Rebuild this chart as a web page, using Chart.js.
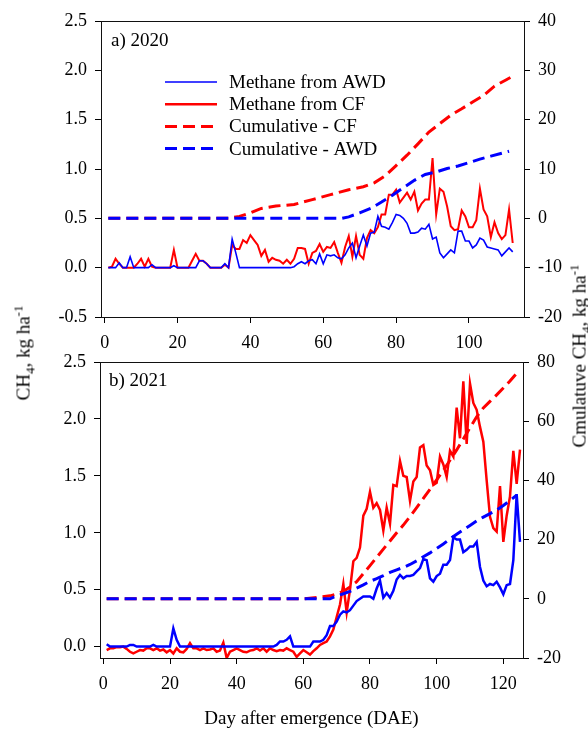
<!DOCTYPE html>
<html>
<head>
<meta charset="utf-8">
<script src="https://cdn.jsdelivr.net/npm/chart.js@4.4.0/dist/chart.umd.min.js"></script>
<style>
  body { margin: 0; background: #fff; }
  #wrap { position: relative; width: 588px; height: 729px; font-family: 'Liberation Serif', 'Times New Roman', serif; color: #000; }
  canvas { position: absolute; left: 0; }
  #chartA { top: 0; }
  #chartB { top: 330px; }
  .ttl { position: absolute; font-size: 19px; line-height: 1; white-space: nowrap; transform: translate(-50%, -50%) rotate(-90deg); }
  .ttl sub, .ttl sup { font-size: 13px; line-height: 0; }
</style>
</head>
<body>
<div id="wrap">
  <canvas id="chartA" width="588" height="360"></canvas>
  <canvas id="chartB" width="588" height="399"></canvas>
  <div class="ttl" style="left:23px; top:353px;">CH<sub>4</sub>, kg ha<sup>-1</sup></div>
  <div class="ttl" style="left:579px; top:356px;">Cmulatuve CH<sub>4</sub>, kg ha<sup>-1</sup></div>
</div>
<script>
const SERIF = "'Liberation Serif', 'Times New Roman', serif";
Chart.defaults.font.family = SERIF;
Chart.defaults.font.size = 18;
Chart.defaults.color = '#000';

// ---- a) 2020 : daily flux (kg/ha), day 1..112
const firstDay2020 = 1;
const awd2020 = [0, 0, 0, 0.05, 0, 0, 0.11, 0, 0, 0, 0, 0, 0.03, 0, 0, 0, 0, 0, 0.02, 0,
  0, 0, 0, 0, 0, 0.07, 0.07, 0.04, 0, 0, 0, 0, 0.04, 0, 0.29, 0.15, 0, 0, 0, 0,
  0, 0, 0, 0, 0, 0, 0, 0, 0, 0, 0, 0.01, 0.04, 0.06, 0.04, 0.07, 0.08, 0.04, 0.14, 0.04,
  0.13, 0.12, 0.13, 0.1, 0.09, 0.13, 0.2, 0.25, 0.1, 0.22, 0.33, 0.22, 0.35, 0.36, 0.52, 0.42, 0.41, 0.39, 0.46, 0.54,
  0.53, 0.5, 0.45, 0.35, 0.35, 0.36, 0.4, 0.39, 0.44, 0.29, 0.31, 0.15, 0.1, 0.14, 0.18, 0.15, 0.37, 0.37, 0.27, 0.27,
  0.2, 0.23, 0.3, 0.28, 0.21, 0.2, 0.19, 0.18, 0.12, 0.16, 0.2, 0.16];
const cf2020 = [0, 0.01, 0.09, 0.04, 0, 0, 0, 0, 0.04, 0.09, 0.01, 0.09, 0.01, 0, 0, 0, 0, 0, 0.18, 0,
  0, 0, 0, 0.07, 0.14, 0.07, 0.07, 0.04, 0, 0, 0, 0, 0.03, 0, 0.23, 0.19, 0.19, 0.28, 0.25, 0.33,
  0.28, 0.23, 0.12, 0.18, 0.06, 0.1, 0.08, 0.07, 0.04, 0.08, 0.04, 0.09, 0.2, 0.2, 0.19, 0.04, 0.15, 0.17, 0.24, 0.16,
  0.21, 0.2, 0.26, 0.15, 0.05, 0.21, 0.32, 0.11, 0.32, 0.13, 0.09, 0.3, 0.38, 0.35, 0.41, 0.54, 0.54, 0.74, 0.74, 0.79,
  0.66, 0.71, 0.76, 0.69, 0.77, 0.58, 0.65, 0.69, 0.69, 1.11, 0.54, 0.8, 0.77, 0.62, 0.42, 0.38, 0.39, 0.58, 0.52, 0.41,
  0.41, 0.48, 0.8, 0.59, 0.52, 0.31, 0.46, 0.35, 0.29, 0.33, 0.59, 0.25];
// cumulative (kg/ha)
const cumCFDays2020 = [1, 34, 37, 40, 43, 47, 52, 57, 62, 67, 71, 74, 77, 80, 83, 86, 89, 92, 95, 98, 101, 104, 107, 110, 112];
const cumCF2020 = [0, 0, 0.4, 1.1, 2, 2.5, 2.8, 3.8, 4.8, 5.8, 6.4, 7.2, 8.6, 10.7, 12.8, 15.1, 17.5, 19.2, 20.9, 22.2, 23.6, 24.9, 26.8, 28, 28.8];
const cumAWDDays2020 = [1, 65, 67, 70, 73, 76, 79, 82, 85, 88, 91, 94, 97, 100, 103, 106, 109, 111];
const cumAWD2020 = [0, 0, 0.3, 1.1, 2, 3.3, 4.7, 6.2, 7.7, 8.9, 9.4, 10.1, 10.6, 11.3, 12, 12.6, 13.2, 13.6];

// ---- b) 2021 : daily flux, day 1..125
const firstDay2021 = 1;
const awd2021 = [0.02, 0, 0, 0, 0, 0, 0, 0.015, 0.015, 0, 0, 0, 0, 0, 0.015, 0, 0, 0, 0, 0,
  0.16, 0.06, 0, 0, 0, 0, 0, 0, 0, 0, 0, 0, 0, 0, 0, 0, 0, 0, 0, 0,
  0, 0, 0, 0, 0, 0, 0, 0, 0, 0, 0, 0.015, 0.045, 0.045, 0.06, 0.09, 0, 0, 0, 0,
  0, 0, 0.045, 0.045, 0.045, 0.06, 0.1, 0.18, 0.18, 0.22, 0.28, 0.31, 0.3, 0.32, 0.36, 0.4, 0.42, 0.44, 0.44, 0.44,
  0.42, 0.51, 0.58, 0.43, 0.47, 0.43, 0.49, 0.59, 0.63, 0.6, 0.62, 0.62, 0.63, 0.66, 0.69, 0.77, 0.76, 0.6, 0.57, 0.62,
  0.64, 0.72, 0.72, 0.76, 0.96, 0.94, 0.94, 0.83, 0.85, 0.88, 0.88, 0.92, 0.7, 0.58, 0.53, 0.55, 0.54, 0.57, 0.52, 0.46,
  0.54, 0.55, 0.76, 1.34, 0.92];
const cf2021 = [-0.03, -0.015, -0.015, -0.005, -0.005, 0, -0.02, -0.045, -0.06, -0.045, -0.03, -0.035, -0.015, -0.015, -0.03, -0.015, -0.035, -0.025, -0.05, -0.03,
  -0.06, -0.015, -0.045, -0.05, -0.02, 0.03, -0.015, -0.015, -0.03, -0.015, -0.03, -0.025, -0.015, -0.045, -0.035, 0.035, -0.1, -0.045, -0.03, -0.015,
  -0.03, -0.045, -0.05, -0.035, -0.03, -0.015, -0.035, -0.015, -0.045, -0.015, -0.03, -0.04, -0.03, -0.035, -0.015, -0.03, -0.045, -0.09, -0.06, -0.03,
  -0.05, -0.07, -0.04, -0.015, 0.015, 0.03, 0.045, 0.09, 0.15, 0.26, 0.37, 0.55, 0.3, 0.5, 0.75, 0.78, 0.87, 1.15, 1.21, 1.36,
  1.22, 1.26, 1.2, 1.02, 1.22, 1.08, 1.42, 1.41, 1.63, 1.5, 1.49, 1.28, 1.45, 1.49, 1.75, 1.77, 1.59, 1.55, 1.42, 1.44,
  1.67, 1.6, 1.49, 1.72, 1.67, 2.1, 1.83, 2.33, 1.78, 2.31, 2.14, 2.08, 1.93, 1.8, 1.46, 1.14, 1.04, 1.01, 1.41, 0.92,
  1.15, 1.32, 1.72, 1.43, 1.73];
const cumCFDays2021 = [1, 60, 65, 68, 70, 72, 74, 76, 78, 80, 82, 84, 86, 88, 90, 92, 94, 96, 98, 100, 102, 104, 106, 108, 110, 112, 114, 116, 118, 120, 122, 124];
const cumCF2021 = [0, 0, 0.6, 1, 1.6, 2.5, 4, 5.8, 8.5, 11.2, 14, 16.8, 19.5, 22.3, 24.9, 27.8, 30.8, 33.9, 37, 40.2, 43.4, 46.8, 50.3, 54, 57.8, 61.5, 64.5, 66.7, 68.9, 71.2, 73.6, 76.2];
const cumAWDDays2021 = [1, 68, 70, 72, 74, 76, 78, 80, 82, 84, 86, 88, 90, 92, 94, 96, 98, 100, 102, 104, 106, 108, 110, 112, 114, 116, 118, 120, 122, 124];
const cumAWD2021 = [0, 0, 1, 1.7, 2.5, 3.6, 4.7, 5.9, 6.8, 7.8, 8.9, 9.8, 10.6, 11.6, 12.8, 14.2, 15.5, 17, 18.5, 20.2, 21.8, 23.3, 24.8, 26.3, 27.6, 28.8, 30, 31.5, 33.2, 35];

// axis ticks
const xTicksA = [0, 20, 40, 60, 80, 100];
const xTicksB = [0, 20, 40, 60, 80, 100, 120];
const leftTicksA = [-0.5, 0, 0.5, 1, 1.5, 2, 2.5];
const rightTicksA = [-20, -10, 0, 10, 20, 30, 40];
const leftTicksB = [0, 0.5, 1, 1.5, 2, 2.5];
const rightTicksB = [-20, 0, 20, 40, 60, 80];

const legendLabels = ['Methane from AWD', 'Methane from CF', 'Cumulative - CF', 'Cumulative - AWD'];

function daily(first, vals) {
  return vals.map((v, i) => ({ x: first + i, y: v }));
}
function paired(days, vals) {
  return days.map((d, i) => ({ x: d, y: vals[i] }));
}
function fixTicks(list) {
  return scale => { scale.ticks = list.map(v => ({ value: v })); };
}

// frame round the plot area + panel label
const framePlugin = {
  id: 'frame',
  afterDraw(chart, args, opts) {
    const { ctx, chartArea: a } = chart;
    ctx.save();
    ctx.strokeStyle = '#111';
    ctx.lineWidth = 1;
    ctx.strokeRect(Math.round(a.left) + 0.5, Math.round(a.top) + 0.5, Math.round(a.right - a.left), Math.round(a.bottom - a.top));
    ctx.fillStyle = '#000';
    ctx.font = '19px ' + SERIF;
    ctx.textBaseline = 'middle';
    ctx.fillText(opts.text, opts.x, opts.y);
    ctx.restore();
  }
};

// legend drawn inside panel a
const legendPlugin = {
  id: 'insideLegend',
  afterDraw(chart, args, opts) {
    if (!opts.show) return;
    const ctx = chart.ctx;
    ctx.save();
    ctx.font = '19px ' + SERIF;
    ctx.textBaseline = 'middle';
    legendLabels.forEach((lab, i) => {
      const ds = chart.data.datasets.find(d => d.label === lab);
      const y = 82 + i * 22.2;
      ctx.strokeStyle = ds.borderColor;
      ctx.lineWidth = ds.legendWidth;
      ctx.setLineDash(ds.borderDash || []);
      ctx.beginPath();
      ctx.moveTo(165, y);
      ctx.lineTo(217, y);
      ctx.stroke();
      ctx.setLineDash([]);
      ctx.fillStyle = '#000';
      ctx.fillText(lab, 229, y + 1);
    });
    ctx.restore();
  }
};

function makeChart(id, cfg) {
  return new Chart(document.getElementById(id), {
    type: 'line',
    data: {
      datasets: [
        { label: 'Cumulative - AWD', data: cfg.cumAWD, yAxisID: 'y1', borderColor: '#0000ff', borderWidth: 3, borderDash: [12, 6], legendWidth: 3, order: 1 },
        { label: 'Cumulative - CF', data: cfg.cumCF, yAxisID: 'y1', borderColor: '#ff0000', borderWidth: 3, borderDash: [12, 6], legendWidth: 3, order: 2 },
        { label: 'Methane from AWD', data: cfg.awd, yAxisID: 'y', borderColor: '#0000ff', borderWidth: cfg.awdWidth, legendWidth: 1.5, order: 3 },
        { label: 'Methane from CF', data: cfg.cf, yAxisID: 'y', borderColor: '#ff0000', borderWidth: cfg.cfWidth, legendWidth: 2.5, order: 4 }
      ]
    },
    options: {
      responsive: false,
      animation: false,
      layout: { padding: { top: cfg.top, left: 0, right: 0, bottom: 0 } },
      elements: { point: { radius: 0 }, line: { tension: 0, fill: false } },
      scales: {
        x: {
          type: 'linear', min: -1, max: cfg.xMax,
          afterBuildTicks: fixTicks(cfg.xTicks),
          afterFit: s => { s.height = cfg.xHeight; },
          grid: { drawOnChartArea: false, tickLength: 6, color: '#000' },
          border: { display: false },
          ticks: { padding: 9, font: { size: 18 } },
          title: cfg.xTitle ? { display: true, text: cfg.xTitle, font: { size: 19, lineHeight: 1 }, padding: 0 } : { display: false }
        },
        y: {
          position: 'left', min: cfg.yMin, max: 2.5,
          afterBuildTicks: fixTicks(cfg.leftTicks),
          afterFit: s => { s.width = cfg.leftW; },
          grid: { drawOnChartArea: false, tickLength: 6, color: '#000' },
          border: { display: false },
          ticks: { padding: 8, callback: v => v.toFixed(1) }
        },
        y1: {
          position: 'right', min: cfg.rMin, max: cfg.rMax,
          afterBuildTicks: fixTicks(cfg.rightTicks),
          afterFit: s => { s.width = cfg.rightW; },
          grid: { drawOnChartArea: false, tickLength: 6, color: '#000' },
          border: { display: false },
          ticks: { padding: 8 }
        }
      },
      plugins: {
        legend: { display: false },
        tooltip: { enabled: false },
        frame: cfg.label,
        insideLegend: { show: cfg.legend }
      }
    },
    plugins: [framePlugin, legendPlugin]
  });
}

makeChart('chartA', {
  awd: daily(firstDay2020, awd2020), cf: daily(firstDay2020, cf2020),
  cumAWD: paired(cumAWDDays2020, cumAWD2020), cumCF: paired(cumCFDays2020, cumCF2020),
  awdWidth: 1.6, cfWidth: 2,
  top: 21, xHeight: 43, leftW: 101, rightW: 64, xMax: 115.1,
  yMin: -0.5, rMin: -20, rMax: 40,
  xTicks: xTicksA, leftTicks: leftTicksA, rightTicks: rightTicksA,
  label: { text: 'a) 2020', x: 111, y: 41 }, legend: true
});

makeChart('chartB', {
  awd: daily(firstDay2021, awd2021), cf: daily(firstDay2021, cf2021),
  cumAWD: paired(cumAWDDays2021, cumAWD2021), cumCF: paired(cumCFDays2021, cumCF2021),
  awdWidth: 2.5, cfWidth: 2.5,
  top: 32, xHeight: 71, leftW: 100, rightW: 65, xMax: 125.9,
  yMin: -0.1, rMin: -20, rMax: 80,
  xTicks: xTicksB, leftTicks: leftTicksB, rightTicks: rightTicksB,
  xTitle: 'Day after emergence (DAE)',
  label: { text: 'b) 2021', x: 109, y: 51 }, legend: false
});
</script>
</body>
</html>
